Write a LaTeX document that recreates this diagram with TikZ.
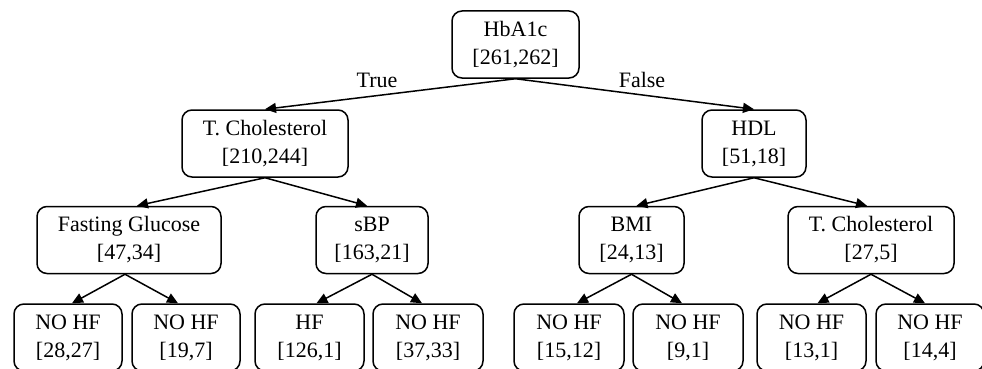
\documentclass[tikz,border=0pt]{standalone}
\usepackage{fontspec}
\setmainfont{Liberation Serif}
\usetikzlibrary{arrows.meta}
\begin{document}
\begin{tikzpicture}[x=1pt,y=-1pt,
  box/.style={draw,line width=1.5pt,rounded corners=10pt,minimum height=67pt,inner sep=0pt,align=center,
    font=\fontsize{22}{28}\selectfont},
  edge/.style={line width=1.5pt,-{Triangle[length=11pt,width=10pt]}},
  lbl/.style={font=\fontsize{22}{28}\selectfont,inner sep=0pt}]
\useasboundingbox (0,0) rectangle (982,369);
\clip (0,0) rectangle (982,369);
\node[box,minimum width=127pt] (root) at (515.5,44.5) {HbA1c\\{[261,262]}};
\node[box,minimum width=166pt] (tc1) at (265,143.5) {T. Cholesterol\\{[210,244]}};
\node[box,minimum width=104pt] (hdl) at (754,143.5) {HDL\\{[51,18]}};
\node[box,minimum width=184pt] (fg) at (129,240) {Fasting Glucose\\{[47,34]}};
\node[box,minimum width=112pt] (sbp) at (372,240) {sBP\\{[163,21]}};
\node[box,minimum width=105pt] (bmi) at (631.5,240) {BMI\\{[24,13]}};
\node[box,minimum width=166pt] (tc2) at (871,240) {T. Cholesterol\\{[27,5]}};
\node[box,minimum width=108pt] (l1) at (68,337.5) {NO HF\\{[28,27]}};
\node[box,minimum width=108pt] (l2) at (186,337.5) {NO HF\\{[19,7]}};
\node[box,minimum width=109pt] (l3) at (309.5,337.5) {HF\\{[126,1]}};
\node[box,minimum width=110pt] (l4) at (428,337.5) {NO HF\\{[37,33]}};
\node[box,minimum width=110pt] (l5) at (569,337.5) {NO HF\\{[15,12]}};
\node[box,minimum width=110pt] (l6) at (688,337.5) {NO HF\\{[9,1]}};
\node[box,minimum width=109pt] (l7) at (811.5,337.5) {NO HF\\{[13,1]}};
\node[box,minimum width=108pt] (l8) at (930,337.5) {NO HF\\{[14,4]}};
\node[lbl] (t) at (377,80) {True};
\node[lbl] (f) at (642,80) {False};
\draw[edge] (root.south) -- (tc1.north);
\draw[edge] (root.south) -- (hdl.north);
\draw[edge] (tc1.south) -- ([xshift=8pt]fg.north);
\draw[edge] (tc1.south) -- ([xshift=-5pt]sbp.north);
\draw[edge] (hdl.south) -- ([xshift=5pt]bmi.north);
\draw[edge] (hdl.south) -- ([xshift=-4pt]tc2.north);
\draw[edge] ([xshift=-4pt]fg.south) -- ([xshift=4pt]l1.north);
\draw[edge] ([xshift=-4pt]fg.south) -- ([xshift=-8pt]l2.north);
\draw[edge] (sbp.south) -- ([xshift=7pt]l3.north);
\draw[edge] (sbp.south) -- ([xshift=-6pt]l4.north);
\draw[edge] (bmi.south) -- ([xshift=8pt]l5.north);
\draw[edge] (bmi.south) -- ([xshift=-6pt]l6.north);
\draw[edge] (tc2.south) -- ([xshift=6pt]l7.north);
\draw[edge] (tc2.south) -- ([xshift=-5pt]l8.north);
\end{tikzpicture}
\end{document}
